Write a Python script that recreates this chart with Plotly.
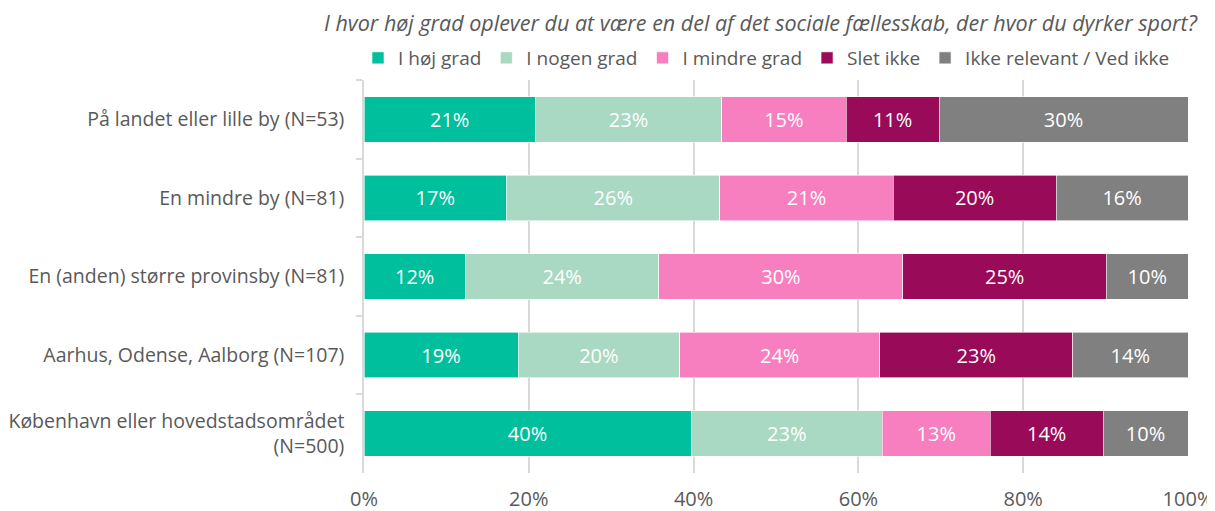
import plotly.graph_objects as go

categories = [
    "På landet eller lille by (N=53)",
    "En mindre by (N=81)",
    "En (anden) større provinsby (N=81)",
    "Aarhus, Odense, Aalborg (N=107)",
    "København eller hovedstadsområdet<br>(N=500)",
]
series_names = ["I høj grad", "I nogen grad", "I mindre grad", "Slet ikke", "Ikke relevant / Ved ikke"]
hoej_grad = [20.8, 17.3, 12.3, 18.7, 39.7]
nogen_grad = [22.6, 25.9, 23.5, 19.6, 23.2]
mindre_grad = [15.1, 21.0, 29.6, 24.3, 13.1]
slet_ikke = [11.3, 19.8, 24.7, 23.4, 13.7]
ikke_relevant = [30.2, 16.0, 9.9, 14.0, 10.3]
x_ticks = [0, 20, 40, 60, 80, 100]
x_tick_labels = ["0%", "20%", "40%", "60%", "80%", "100%"]
title_text = "I hvor høj grad oplever du at være en del af det sociale fællesskab, der hvor du dyrker sport?"

colors = ["#00BF9C", "#A9D8C3", "#F77FC0", "#990A59", "#808080"]
values = [hoej_grad, nogen_grad, mindre_grad, slet_ikke, ikke_relevant]

FONT = "Open Sans"
W, H = 1207, 503
fig = go.Figure()
for name, vals, col in zip(series_names, values, colors):
    fig.add_trace(go.Bar(
        name=name, y=categories, x=vals, orientation="h",
        marker=dict(color=col, line=dict(color="white", width=0.6)),
        texttemplate="%{x:.0f}%", textposition="inside", insidetextanchor="middle",
        textfont=dict(color="white", size=20, family=FONT),
        hoverinfo="x+y+name",
    ))

fig.update_layout(
    barmode="stack",
    width=W, height=H,
    margin=dict(l=356, r=27, t=72, b=38, autoexpand=False),
    paper_bgcolor="white", plot_bgcolor="white",
    bargap=0.42,
    font=dict(family=FONT, size=19, color="#595959"),
    legend=dict(orientation="h", x=350 / W, xanchor="left", xref="container",
                y=1 - 50 / H, yanchor="middle", yref="container",
                font=dict(size=19, color="#595959", family=FONT), traceorder="normal",
                itemwidth=30, tracegroupgap=0),
    annotations=[dict(text="<i>" + title_text + "</i>", xref="paper", yref="paper",
                      x=0.4818, xanchor="center", y=1 + 58 / 393, yanchor="middle", showarrow=False,
                      font=dict(size=21.5, color="#595959", family=FONT))],
)
fig.update_xaxes(range=[0, 100], tickvals=x_ticks, ticktext=x_tick_labels, automargin=False,
                 showgrid=True, gridcolor="#D9D9D9", gridwidth=1.5, zeroline=False,
                 ticks="", tickfont=dict(size=20, color="#595959"), ticklabelstandoff=12)
fig.update_yaxes(autorange="reversed", showline=True, linecolor="#D9D9D9", linewidth=1.5,
                 automargin=False,
                 ticks="outside", tickson="boundaries", ticklen=6, tickcolor="#D9D9D9",
                 tickwidth=1.5, tickfont=dict(size=19.5, color="#595959"), ticklabelstandoff=14)

fig.write_html("out.html")
